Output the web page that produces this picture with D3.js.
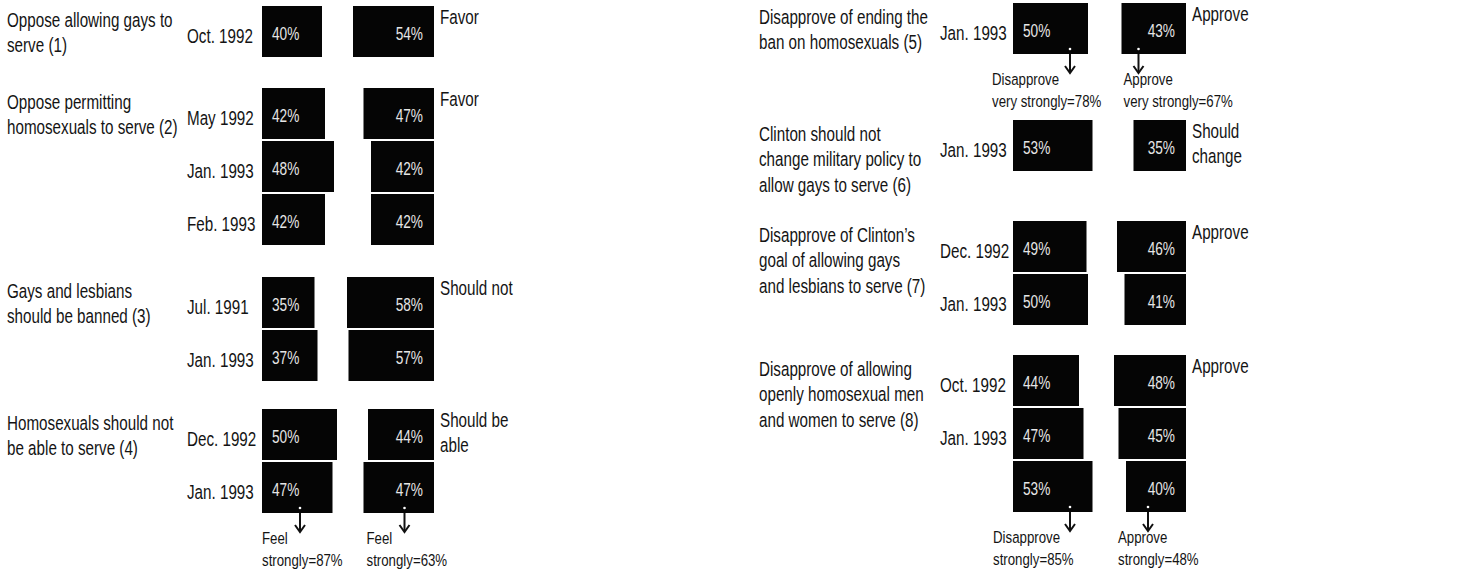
<!DOCTYPE html>
<html>
<head>
<meta charset="utf-8">
<script src="https://cdn.jsdelivr.net/npm/d3@7"></script>
<style>
  body { margin: 0; background: #fff; }
  svg text { font-family: "Liberation Sans", Arial, Helvetica, sans-serif; fill: #141414; }
</style>
</head>
<body>
<script>
// question text, one entry per line
var questions = [
    ["Oppose allowing gays to", "serve (1)"],
    ["Oppose permitting", "homosexuals to serve (2)"],
    ["Gays and lesbians", "should be banned (3)"],
    ["Homosexuals should not", "be able to serve (4)"],
    ["Disapprove of ending the", "ban on homosexuals (5)"],
    ["Clinton should not", "change military policy to", "allow gays to serve (6)"],
    ["Disapprove of Clinton\u2019s", "goal of allowing gays", "and lesbians to serve (7)"],
    ["Disapprove of allowing", "openly homosexual men", "and women to serve (8)"]
];
var pollDates = [
    ["Oct. 1992"],
    ["May 1992", "Jan. 1993", "Feb. 1993"],
    ["Jul. 1991", "Jan. 1993"],
    ["Dec. 1992", "Jan. 1993"],
    ["Jan. 1993"],
    ["Jan. 1993"],
    ["Dec. 1992", "Jan. 1993"],
    ["Oct. 1992", "Jan. 1993", ""]
];
var opposeValues = [[40], [42, 48, 42], [35, 37], [50, 47], [50], [53], [49, 50], [44, 47, 53]];
var favorValues = [[54], [47, 42, 42], [58, 57], [44, 47], [43], [35], [46, 41], [48, 45, 40]];
var favorLabels = [["Favor"], ["Favor"], ["Should not"], ["Should be", "able"], ["Approve"], ["Should", "change"], ["Approve"], ["Approve"]];
var notes = [
    { q: 3, side: "oppose", lines: ["Feel", "strongly=87%"] },
    { q: 3, side: "favor", lines: ["Feel", "strongly=63%"] },
    { q: 4, side: "oppose", lines: ["Disapprove", "very strongly=78%"] },
    { q: 4, side: "favor", lines: ["Approve", "very strongly=67%"] },
    { q: 7, side: "oppose", lines: ["Disapprove", "strongly=85%"] },
    { q: 7, side: "favor", lines: ["Approve", "strongly=48%"] }
];

// layout (not data)
var width = 1473, height = 573;
var panels = [
    { textX: 7, dateX: 187, barX: 262, rightEdge: 434 },
    { textX: 759, dateX: 940, barX: 1013, rightEdge: 1186 }
];
var groupTop = [6, 88, 277, 409, 3, 120, 221, 355];
var rowStep = 53, rowH = 51;
var narrow = 0.78; // the scan uses a condensed face
// arrow / text offsets relative to bar left edge
var noteOffsets = [
    { arrow: 38, text: 0 }, { arrow: 41, text: 3 },
    { arrow: 57, text: -21 }, { arrow: 17, text: 2 },
    { arrow: 57, text: -20 }, { arrow: 22, text: -8 }
];

var xScale = d3.scaleLinear().domain([0, 100]).range([0, 150]);

var svg = d3.select('body').append('svg')
    .attr('width', width)
    .attr('height', height);

function panelOf(q) { return panels[q < 4 ? 0 : 1]; }

function rowY(q, i) { return groupTop[q] + i * rowStep; }

// condensed multi-line text
function addText(x, y, lines, size, lineH, opts) {
    opts = opts || {};
    var g = svg.append('g')
        .attr('transform', 'translate(' + x + ',' + y + ') scale(' + narrow + ',1)');
    var t = g.append('text')
        .style('font-size', size + 'px')
        .attr('text-anchor', opts.anchor || 'start');
    if (opts.fill) t.style('fill', opts.fill);
    lines.forEach(function (l, k) {
        t.append('tspan').attr('x', 0).attr('dy', k == 0 ? 0 : lineH).text(l);
    });
    return g;
}

// build one row list for bars
var rows = [];
questions.forEach(function (lines, q) {
    pollDates[q].forEach(function (date, i) {
        rows.push({ q: q, i: i, date: date, oppose: opposeValues[q][i], favor: favorValues[q][i] });
    });
});

// question labels
questions.forEach(function (lines, q) {
    addText(panelOf(q).textX, groupTop[q] + 21, lines, 19.5, 25.5);
});

// oppose bars
svg.selectAll('.oppose').data(rows).enter().append('rect')
    .attr('class', 'oppose')
    .attr('x', function (d) { return panelOf(d.q).barX; })
    .attr('y', function (d) { return rowY(d.q, d.i); })
    .attr('width', function (d) { return xScale(d.oppose); })
    .attr('height', rowH)
    .attr('fill', '#050505');

// favor bars, right aligned
svg.selectAll('.favor').data(rows).enter().append('rect')
    .attr('class', 'favor')
    .attr('x', function (d) { return panelOf(d.q).rightEdge - xScale(d.favor); })
    .attr('y', function (d) { return rowY(d.q, d.i); })
    .attr('width', function (d) { return xScale(d.favor); })
    .attr('height', rowH)
    .attr('fill', '#050505');

rows.forEach(function (d) {
    var p = panelOf(d.q);
    var cy = rowY(d.q, d.i) + rowH / 2;
    if (d.date) addText(p.dateX, cy + 11, [d.date], 19.5, 0);
    addText(p.barX + 10, cy + 8, [d.oppose + '%'], 17.5, 0, { fill: '#e6e6e6' });
    addText(p.rightEdge - 11, cy + 8, [d.favor + '%'], 17.5, 0, { fill: '#e6e6e6', anchor: 'end' });
});

// favor side category labels
favorLabels.forEach(function (lines, q) {
    addText(panelOf(q).rightEdge + 6, groupTop[q] + 18, lines, 19.5, 25.5);
});

// "strongly" notes with arrows
notes.forEach(function (n, k) {
    var p = panelOf(n.q);
    var last = opposeValues[n.q].length - 1;
    var bottom = rowY(n.q, last) + rowH;
    var left = n.side == 'oppose' ? p.barX : p.rightEdge - xScale(favorValues[n.q][last]);
    var ax = left + noteOffsets[k].arrow;
    svg.append('circle').attr('cx', ax).attr('cy', bottom - 5).attr('r', 1.3).attr('fill', '#fff');
    svg.append('line')
        .attr('x1', ax).attr('x2', ax)
        .attr('y1', bottom).attr('y2', bottom + 18)
        .attr('stroke', '#111').attr('stroke-width', 2);
    svg.append('path')
        .attr('d', 'M' + (ax - 5) + ',' + (bottom + 12) + 'L' + ax + ',' + (bottom + 19) + 'L' + (ax + 5) + ',' + (bottom + 12))
        .attr('fill', 'none').attr('stroke', '#111').attr('stroke-width', 2);
    addText(left + noteOffsets[k].text, bottom + 31, n.lines, 17, 22);
});
</script>
</body>
</html>
